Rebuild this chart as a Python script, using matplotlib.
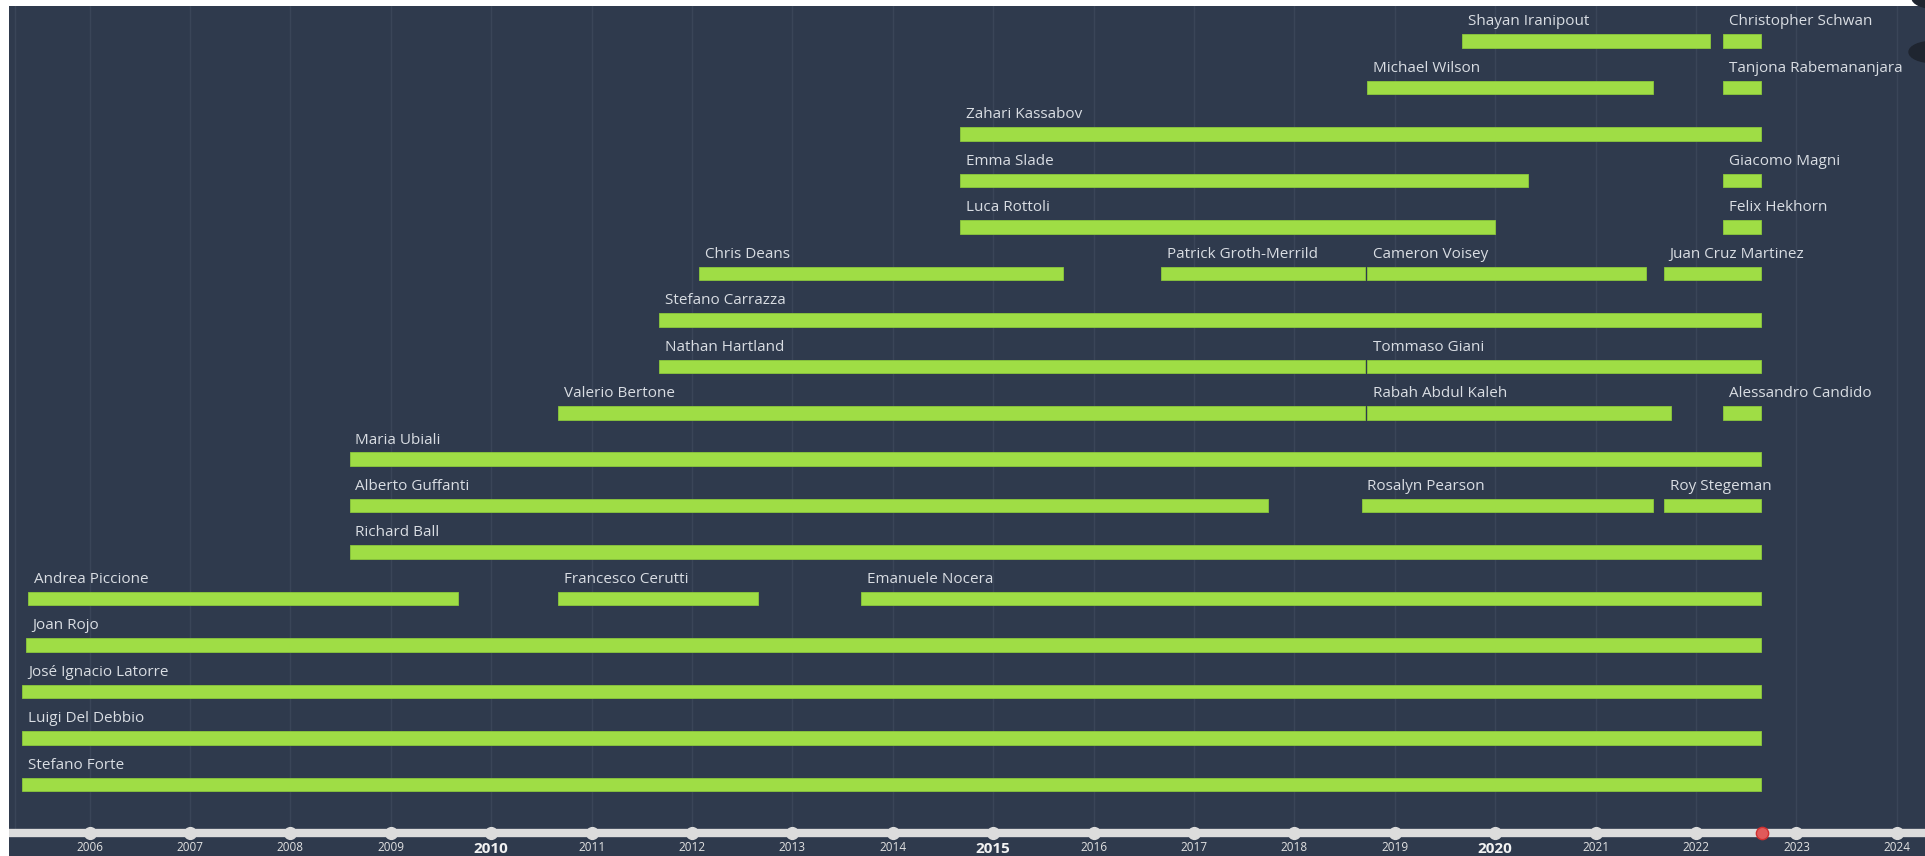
import matplotlib
matplotlib.use("Agg")
import matplotlib.pyplot as plt
from matplotlib.patches import Circle
from matplotlib import transforms

# people on the timeline (row 0 is the top row)
names = [
    "Shayan Iranipout", "Christopher Schwan",
    "Michael Wilson", "Tanjona Rabemananjara",
    "Zahari Kassabov",
    "Emma Slade", "Giacomo Magni",
    "Luca Rottoli", "Felix Hekhorn",
    "Chris Deans", "Patrick Groth-Merrild", "Cameron Voisey", "Juan Cruz Martinez",
    "Stefano Carrazza",
    "Nathan Hartland", "Tommaso Giani",
    "Valerio Bertone", "Rabah Abdul Kaleh", "Alessandro Candido",
    "Maria Ubiali",
    "Alberto Guffanti", "Rosalyn Pearson", "Roy Stegeman",
    "Richard Ball",
    "Andrea Piccione", "Francesco Cerutti", "Emanuele Nocera",
    "Joan Rojo",
    "José Ignacio Latorre",
    "Luigi Del Debbio",
    "Stefano Forte",
]
rows = [0, 0, 1, 1, 2, 3, 3, 4, 4, 5, 5, 5, 5, 6, 7, 7, 8, 8, 8, 9,
        10, 10, 10, 11, 12, 12, 12, 13, 14, 15, 16]
start_year = [2019.67, 2022.27, 2018.72, 2022.27, 2014.67, 2014.67, 2022.27,
              2014.67, 2022.27, 2012.07, 2016.67, 2018.72, 2021.68, 2011.67,
              2011.67, 2018.72, 2010.67, 2018.72, 2022.27, 2008.59, 2008.59,
              2018.67, 2021.68, 2008.59, 2005.39, 2010.67, 2013.68, 2005.37,
              2005.33, 2005.33, 2005.33]
end_year = [2022.14, 2022.65, 2021.57, 2022.65, 2022.65, 2020.33, 2022.65,
            2020.00, 2022.65, 2015.70, 2018.70, 2021.50, 2022.65, 2022.65,
            2018.70, 2022.65, 2018.70, 2021.75, 2022.65, 2022.65, 2017.74,
            2021.57, 2022.65, 2022.65, 2009.67, 2012.66, 2022.65, 2022.65,
            2022.65, 2022.65, 2022.65]

years = list(range(2006, 2025))
bold_years = [2010, 2015, 2020]
today = 2022.66

bg = "#2f3a4d"
bar_col = "#9fdd45"
txt_col = "#d9dde3"

fig = plt.figure(figsize=(19.25, 8.56), dpi=100, facecolor="white")
ax = fig.add_axes([9 / 1925, 0, 1916 / 1925, 850 / 856])
ax.set_facecolor(bg)
ax.set_xlim(2005.197, 2024.281)
ax.set_ylim(17.54, -0.755)
for s in ax.spines.values():
    s.set_visible(False)
ax.set_xticks([])
ax.set_yticks([])

# bars
widths = [e - s for s, e in zip(start_year, end_year)]
ax.barh(rows, widths, left=start_year, height=0.29, color=bar_col,
        edgecolor="#8cc83c", linewidth=0.6, zorder=2)

# faint year grid, stopping at the timeline (behind the bars)
axis_y = 0.0275
for yr in years:
    ax.axvline(yr, ymin=axis_y, ymax=1, color="#3a4558", lw=1.0, zorder=1)
ax.axvline(2005.257, ymin=axis_y, ymax=1, color="#3a4558", lw=1.0, zorder=1)

# labels above the bars
for n, r, s in zip(names, rows, start_year):
    ax.annotate(n, (s, r), xytext=(4.2, 11.3), textcoords="offset points",
                ha="left", va="baseline", fontsize=11, color=txt_col,
                family=["Open Sans", "DejaVu Sans"], zorder=4)

# timeline at the bottom
tr = transforms.blended_transform_factory(ax.transData, ax.transAxes)
ax.plot([2005.197, 2024.281], [axis_y, axis_y], transform=tr, color="#dcdcdc",
        lw=6, solid_capstyle="butt", zorder=5, clip_on=False)
ax.scatter(years, [axis_y] * len(years), transform=tr, s=72, color="#dcdcdc",
           zorder=6, clip_on=False)
ax.scatter([today], [axis_y], transform=tr, s=78, color="#e05a5a",
           edgecolor="#cf2f2f", linewidth=1.0, zorder=7, clip_on=False)
for yr in years:
    if yr in bold_years:
        ax.text(yr, 0.0085, str(yr), transform=tr, ha="center", va="center",
                fontsize=11, fontweight="bold", color="#f2f2f2",
                family=["Liberation Sans Narrow", "Open Sans", "DejaVu Sans"])
    else:
        ax.text(yr, 0.0105, str(yr), transform=tr, ha="center", va="center",
                fontsize=8.5, color="#e2e2e2",
                family=["Liberation Sans Narrow", "Open Sans", "DejaVu Sans"])

# dark round widgets cut off at the right edge
for cx, cy, rr in [(1936, 858, 24), (1933, 804, 24)]:
    fig.patches.append(Circle((cx / 1925, cy / 856), rr / 1925, color="#1f2530",
                              transform=fig.transFigure, zorder=10))

fig.savefig("out.png", dpi=100, facecolor="white")
